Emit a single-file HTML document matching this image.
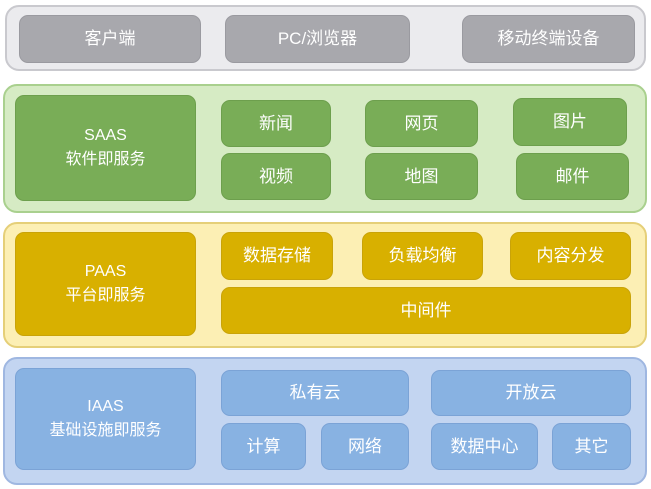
<!DOCTYPE html>
<html><head><meta charset="utf-8"><style>
body{margin:0;width:651px;height:489px;background:#fff;position:relative;overflow:hidden;font-family:"Liberation Sans","Noto Sans CJK SC",sans-serif;}
div{position:absolute;box-sizing:border-box;}
.b{display:flex;align-items:center;justify-content:center;color:#fff;font-size:17px;text-align:center;line-height:24px;border-radius:9px;}
.band{border-radius:14px;}
.g0{background:#ebebee;border:2px solid #c9c9ce;}
.g{background:#a8a8ad;border:1px solid #9a9aa0;}
.s0{background:#d6ebc4;border:2px solid #a9d08e;}
.s{background:#79ad57;border:1px solid #6d9f4d;}
.y0{background:#fcefb4;border:2px solid #e5cf78;}
.y{background:#d8b000;border:1px solid #c9a308;}
.i0{background:#c3d5f1;border:2px solid #9fb7e1;}
.i{background:#88b2e2;border:1px solid #7ba3d6;}
</style></head><body>
<div class="band g0" style="left:5px;top:5px;width:641px;height:66px"></div>
<div class="b g" style="left:19px;top:15px;width:182px;height:48px">客户端</div>
<div class="b g" style="left:225px;top:15px;width:185px;height:48px">PC/浏览器</div>
<div class="b g" style="left:462px;top:15px;width:173px;height:48px">移动终端设备</div>

<div class="band s0" style="left:3px;top:84px;width:644px;height:129px"></div>
<div class="b s" style="left:15px;top:95px;width:181px;height:106px;font-size:16px">SAAS<br>软件即服务</div>
<div class="b s" style="left:221px;top:100px;width:110px;height:47px">新闻</div>
<div class="b s" style="left:221px;top:153px;width:110px;height:47px">视频</div>
<div class="b s" style="left:365px;top:100px;width:113px;height:47px">网页</div>
<div class="b s" style="left:365px;top:153px;width:113px;height:47px">地图</div>
<div class="b s" style="left:513px;top:98px;width:114px;height:48px">图片</div>
<div class="b s" style="left:516px;top:153px;width:113px;height:47px">邮件</div>

<div class="band y0" style="left:3px;top:222px;width:644px;height:126px"></div>
<div class="b y" style="left:15px;top:232px;width:181px;height:104px;font-size:16px">PAAS<br>平台即服务</div>
<div class="b y" style="left:221px;top:232px;width:112px;height:48px">数据存储</div>
<div class="b y" style="left:362px;top:232px;width:121px;height:48px">负载均衡</div>
<div class="b y" style="left:510px;top:232px;width:121px;height:48px">内容分发</div>
<div class="b y" style="left:221px;top:287px;width:410px;height:47px">中间件</div>

<div class="band i0" style="left:3px;top:357px;width:644px;height:128px"></div>
<div class="b i" style="left:15px;top:368px;width:181px;height:102px;font-size:16px">IAAS<br>基础设施即服务</div>
<div class="b i" style="left:221px;top:370px;width:188px;height:46px">私有云</div>
<div class="b i" style="left:431px;top:370px;width:200px;height:46px">开放云</div>
<div class="b i" style="left:221px;top:423px;width:85px;height:47px">计算</div>
<div class="b i" style="left:321px;top:423px;width:88px;height:47px">网络</div>
<div class="b i" style="left:431px;top:423px;width:107px;height:47px">数据中心</div>
<div class="b i" style="left:552px;top:423px;width:79px;height:47px">其它</div>
</body></html>
